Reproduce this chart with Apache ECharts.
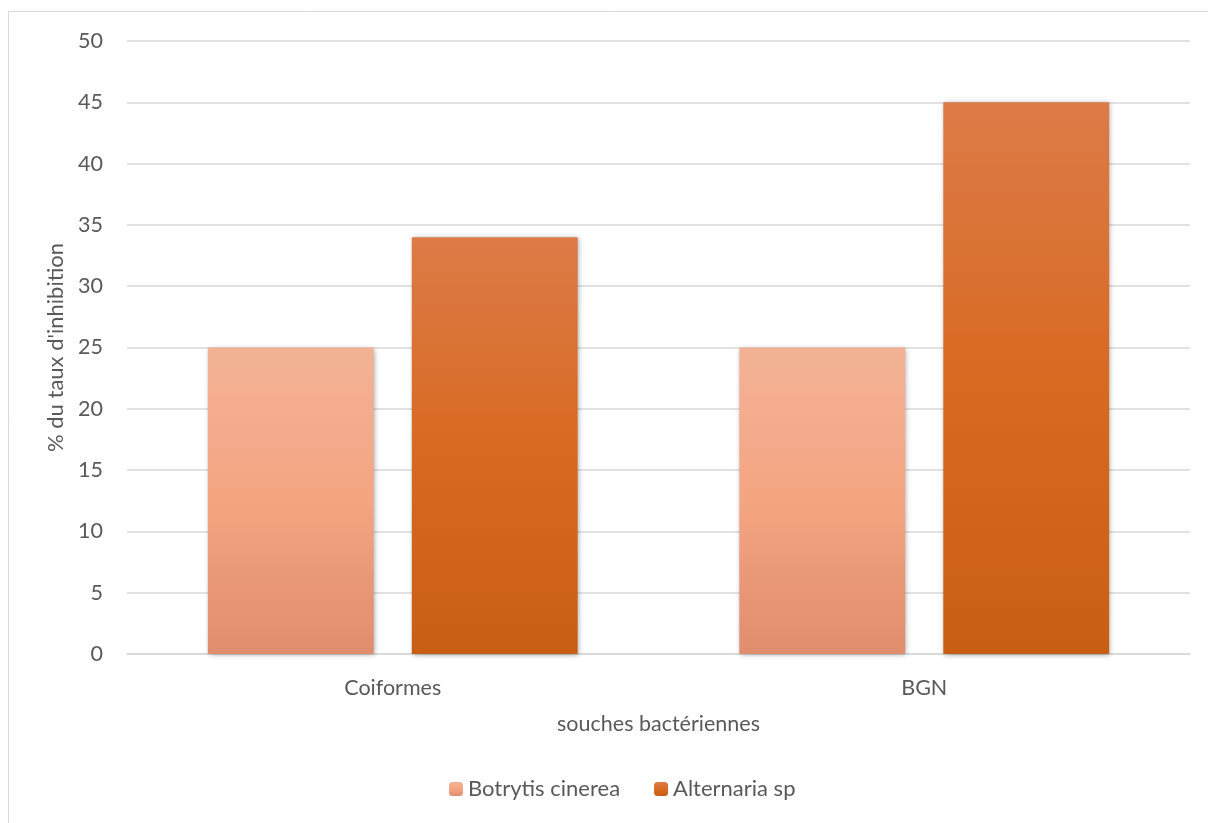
<!DOCTYPE html>
<html>
<head>
<meta charset="utf-8">
<script src="https://cdn.jsdelivr.net/npm/echarts@6/dist/echarts.min.js"></script>
<style>
  html, body { margin: 0; padding: 0; background: #fff; }
  #chart { width: 1208px; height: 823px; }
</style>
</head>
<body>
<div id="chart"></div>
<script>
// categories and values
var categories = ["Coiformes", "BGN"];
var botrytis = [25, 25];
var alternaria = [34, 45];
var yTicks = [0, 5, 10, 15, 20, 25, 30, 35, 40, 45, 50];

var font = "Lato, 'Open Sans', sans-serif";
var fs = 21.5;

function grad(top, mid, bottom) {
  return new echarts.graphic.LinearGradient(0, 0, 0, 1, [
    { offset: 0, color: top },
    { offset: 0.5, color: mid },
    { offset: 1, color: bottom },
  ]);
}

var chart = echarts.init(document.getElementById("chart"));
var option = {
  backgroundColor: "#fff",
  animation: false,
  graphic: [
    {
      type: "rect",
      shape: { x: 8.5, y: 11.5, width: 1240, height: 840 },
      style: { fill: "none", stroke: "#d9d9d9", lineWidth: 1 },
      silent: true,
    },
  ],
  grid: { left: 127, right: 18, top: 41, bottom: 169 },
  legend: {
    bottom: 18,
    left: 444,
    itemWidth: 14,
    itemHeight: 14,
    itemGap: 34,
    textStyle: { color: "#595959", fontSize: 22, fontFamily: font },
    data: ["Botrytis cinerea", "Alternaria sp"],
  },
  xAxis: {
    type: "category",
    data: categories,
    name: "souches bactériennes",
    nameLocation: "middle",
    nameGap: 59,
    nameTextStyle: { color: "#595959", fontSize: fs, fontFamily: font },
    axisLine: { lineStyle: { color: "#d9d9d9", width: 1.5 } },
    axisTick: { show: false },
    axisLabel: { color: "#595959", fontSize: fs, fontFamily: font, margin: 23 },
  },
  yAxis: {
    type: "value",
    min: 0,
    max: 50,
    interval: 5,
    name: "% du taux d'inhibition",
    nameLocation: "middle",
    nameGap: 56,
    nameRotate: 90,
    nameTextStyle: { color: "#595959", fontSize: 22, fontFamily: font },
    axisLine: { show: false },
    axisTick: { show: false },
    axisLabel: {
      color: "#595959",
      fontSize: fs,
      fontFamily: font,
      margin: 24,
      formatter: function (v) {
        return yTicks.indexOf(v) >= 0 ? String(v) : "";
      },
    },
    splitLine: { lineStyle: { color: "#d9d9d9", width: 1.5 } },
  },
  series: [
    {
      name: "Botrytis cinerea",
      type: "bar",
      data: botrytis,
      barWidth: "31.2%",
      barGap: "23%",
      itemStyle: {
        color: grad("#f3b295", "#f4a582", "#e08d6e"),
        shadowBlur: 5,
        shadowColor: "rgba(0,0,0,0.35)",
        shadowOffsetX: 1,
        shadowOffsetY: 1,
      },
    },
    {
      name: "Alternaria sp",
      type: "bar",
      data: alternaria,
      barWidth: "31.2%",
      itemStyle: {
        color: grad("#dc7b47", "#d86a22", "#c85e14"),
        shadowBlur: 5,
        shadowColor: "rgba(0,0,0,0.35)",
        shadowOffsetX: 1,
        shadowOffsetY: 1,
      },
    },
  ],
};
chart.setOption(option);
</script>
</body>
</html>
